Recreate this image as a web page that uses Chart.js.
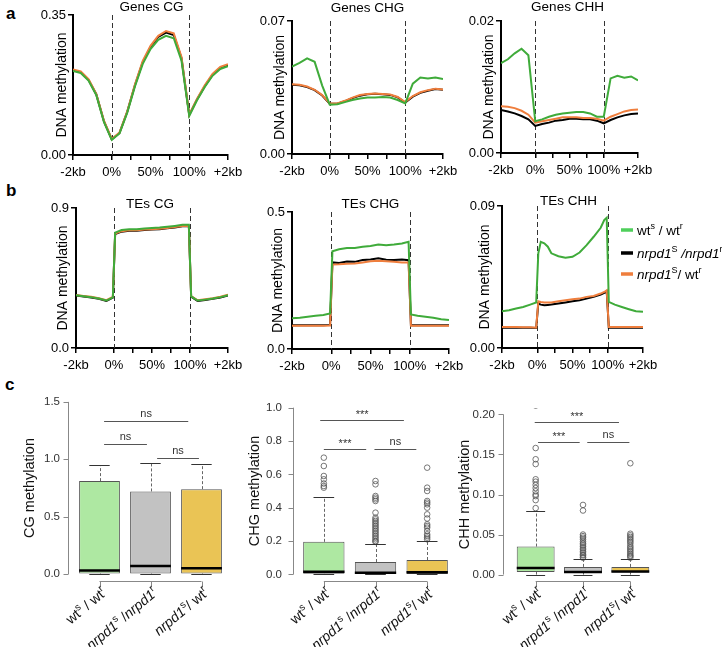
<!DOCTYPE html>
<html>
<head>
<meta charset="utf-8">
<script src="https://cdn.jsdelivr.net/npm/chart.js@4.4.1/dist/chart.umd.min.js"></script>
<style>
  body { margin: 0; background: #fff; width: 722px; height: 647px; position: relative; overflow: hidden; font-family: "Liberation Sans", Arial, sans-serif; }
  canvas { position: absolute; left: 0; top: 0; }
  .tag { position: absolute; font-weight: bold; font-size: 17px; line-height: 17px; }
</style>
</head>
<body>
<div class="tag" style="left:6px;top:5px">a</div>
<div class="tag" style="left:6px;top:182px">b</div>
<div class="tag" style="left:5px;top:376px">c</div>
<canvas id="a1" width="722" height="647"></canvas>
<canvas id="a2" width="722" height="647"></canvas>
<canvas id="a3" width="722" height="647"></canvas>
<canvas id="b1" width="722" height="647"></canvas>
<canvas id="b2" width="722" height="647"></canvas>
<canvas id="b3" width="722" height="647"></canvas>
<canvas id="c1" width="722" height="647"></canvas>
<canvas id="c2" width="722" height="647"></canvas>
<canvas id="c3" width="722" height="647"></canvas>
<script>
// ---- profile plots (a, b): x in units, -2kb=0, 0%=1, 100%=3, +2kb=4
var X_TICKS = [0, 1, 1.5, 2, 2.5, 3, 4];
var X_TICK_LABELS = ['-2kb', '0%', '', '50%', '', '100%', '+2kb'];
var BOUNDARIES = [1, 3];

var GENE_X = [0, 0.2, 0.4, 0.6, 0.8, 1.0, 1.2, 1.4, 1.6, 1.8, 2.0, 2.2, 2.4, 2.6, 2.8, 3.0, 3.2, 3.4, 3.6, 3.8, 4.0];
var GENES_CG_WT       = [.210, .205, .186, .150, .082, .038, .054, .106, .172, .228, .265, .288, .298, .292, .236, .098, .137, .170, .198, .215, .222];
var GENES_CG_NRPD1    = [.212, .207, .188, .152, .084, .039, .055, .108, .175, .232, .270, .295, .306, .300, .242, .100, .139, .172, .200, .218, .225];
var GENES_CG_NRPD1_WT = [.214, .209, .190, .153, .085, .040, .056, .109, .177, .235, .273, .298, .310, .304, .245, .101, .140, .174, .203, .220, .227];

var GENES_CHG_WT       = [.0460, .0480, .0503, .0485, .0360, .0260, .0262, .0273, .0284, .0292, .0297, .0297, .0300, .0297, .0284, .0266, .0370, .0403, .0398, .0403, .0394];
var GENES_CHG_NRPD1    = [.0365, .0362, .0352, .0336, .0308, .0264, .0265, .0278, .0294, .0307, .0314, .0317, .0315, .0311, .0298, .0271, .0302, .0322, .0333, .0342, .0338];
var GENES_CHG_NRPD1_WT = [.0367, .0364, .0355, .0338, .0310, .0266, .0266, .0280, .0297, .0310, .0316, .0319, .0316, .0313, .0300, .0273, .0305, .0325, .0336, .0344, .0340];

var GENES_CHH_WT       = [.0136, .0142, .0151, .0158, .0148, .0048, .0051, .0055, .0058, .0060, .0061, .0062, .0062, .0060, .0055, .0055, .0113, .0117, .0114, .0116, .0110];
var GENES_CHH_NRPD1    = [.0065, .0063, .0060, .0056, .0051, .0041, .0044, .0046, .0049, .0050, .0052, .0052, .0051, .0051, .0049, .0045, .0050, .0054, .0057, .0059, .0060];
var GENES_CHH_NRPD1_WT = [.0071, .0070, .0068, .0064, .0058, .0046, .0048, .0050, .0052, .0054, .0054, .0054, .0053, .0053, .0052, .0049, .0055, .0059, .0063, .0065, .0066];

var TE_X = [0, 0.2, 0.4, 0.6, 0.8, 0.97, 1.03, 1.2, 1.4, 1.6, 1.8, 2.0, 2.2, 2.4, 2.6, 2.8, 2.97, 3.03, 3.2, 3.4, 3.6, 3.8, 4.0];
var TES_CG_WT       = [.339, .333, .327, .318, .305, .326, .742, .758, .764, .764, .768, .771, .774, .779, .785, .792, .792, .332, .305, .311, .318, .327, .340];
var TES_CG_NRPD1    = [.337, .331, .325, .316, .303, .324, .732, .748, .754, .754, .758, .761, .764, .769, .775, .782, .782, .330, .303, .309, .316, .325, .338];
var TES_CG_NRPD1_WT = [.341, .335, .329, .320, .307, .328, .735, .751, .757, .757, .761, .764, .767, .772, .778, .785, .785, .334, .307, .313, .320, .329, .342];

var TES_CHG_WT       = [.112, .114, .118, .121, .124, .130, .357, .364, .369, .369, .373, .376, .381, .379, .381, .385, .391, .126, .121, .118, .114, .109, .106];
var TES_CHG_NRPD1    = [.087, .087, .087, .087, .087, .088, .316, .314, .319, .318, .325, .327, .331, .326, .325, .327, .324, .087, .087, .087, .087, .087, .087];
var TES_CHG_NRPD1_WT = [.085, .085, .085, .085, .085, .086, .308, .309, .311, .312, .316, .320, .322, .320, .318, .316, .316, .085, .085, .085, .085, .085, .085];

var TE_CHH_X = [0, 0.2, 0.4, 0.6, 0.8, 0.97, 1.03, 1.1, 1.2, 1.3, 1.4, 1.6, 1.8, 2.0, 2.2, 2.4, 2.6, 2.8, 2.9, 2.97, 3.03, 3.2, 3.4, 3.6, 3.8, 4.0];
var TES_CHH_WT       = [.0233, .0239, .0250, .0260, .0275, .0288, .0600, .0673, .0663, .0642, .0600, .0582, .0572, .0578, .0605, .0652, .0705, .0762, .0811, .0826, .0292, .0275, .0260, .0246, .0233, .0229];
var TES_CHH_NRPD1    = [.0129, .0129, .0129, .0128, .0128, .0127, .0282, .0275, .0271, .0273, .0275, .0282, .0289, .0296, .0303, .0313, .0324, .0339, .0350, .0360, .0129, .0129, .0129, .0129, .0129, .0129];
var TES_CHH_NRPD1_WT = [.0133, .0133, .0133, .0132, .0131, .0129, .0296, .0292, .0288, .0289, .0288, .0296, .0303, .0309, .0313, .0324, .0330, .0345, .0355, .0366, .0133, .0133, .0133, .0133, .0133, .0133];

// ---- box plots (c)
var GROUPS = ['wt/wt', 'nrpd1/nrpd1', 'nrpd1/wt'];
var GROUP_LABELS = [
  [{t: 'wt'}, {t: 's', sup: 1}, {t: ' / wt'}, {t: 'r', sup: 1}],
  [{t: 'nrpd1', it: 1}, {t: 's', sup: 1}, {t: ' /'}, {t: 'nrpd1', it: 1}, {t: 'r', sup: 1}],
  [{t: 'nrpd1', it: 1}, {t: 's', sup: 1}, {t: '/ wt'}, {t: 'r', sup: 1}]
];
var LEGEND_LABELS = [
  [{t: 'wt'}, {t: 's', sup: 1}, {t: ' / wt'}, {t: 'r', sup: 1}],
  [{t: 'nrpd1', it: 1}, {t: 'S', sup: 1}, {t: ' /', it: 1}, {t: 'nrpd1', it: 1}, {t: 'r', sup: 1}],
  [{t: 'nrpd1', it: 1}, {t: 'S', sup: 1}, {t: '/ wt'}, {t: 'r', sup: 1}]
];

var CG_Q1 = [0.005, 0.005, 0.005], CG_MED = [0.032, 0.07, 0.05], CG_Q3 = [0.81, 0.72, 0.74];
var CG_LO = [0, 0, 0], CG_HI = [0.95, 0.965, 0.955];
var CG_OUT = [[], [], []];
var CG_TICKS = [0, 0.5, 1.0, 1.5], CG_TICK_LABELS = ['0.0', '0.5', '1.0', '1.5'];
var CG_SIG = [[0.09, 1.74, 1.336, 'ns'], [0.09, 0.93, 1.13, 'ns'], [1.13, 1.95, 1.007, 'ns']];

var CHG_Q1 = [0.003, 0.002, 0.002], CHG_MED = [0.016, 0.01, 0.012], CHG_Q3 = [0.195, 0.074, 0.086];
var CHG_LO = [0, 0, 0], CHG_HI = [0.464, 0.185, 0.20];
var CHG_OUT = [
  [0.70, 0.65, 0.59, 0.57, 0.545, 0.53, 0.52],
  [0.56, 0.54, 0.47, 0.46, 0.45, 0.44, 0.37, 0.34, 0.33, 0.32, 0.31, 0.30, 0.29, 0.28, 0.27, 0.26, 0.25, 0.24, 0.23, 0.22, 0.21, 0.20, 0.195],
  [0.64, 0.52, 0.50, 0.44, 0.43, 0.42, 0.40, 0.36, 0.335, 0.30, 0.29, 0.28, 0.26, 0.24, 0.23, 0.22, 0.21]
];
var CHG_TICKS = [0, 0.2, 0.4, 0.6, 0.8, 1.0], CHG_TICK_LABELS = ['0.0', '0.2', '0.4', '0.6', '0.8', '1.0'];
var CHG_SIG = [[-0.07, 1.55, 0.926, '***'], [0.0, 0.82, 0.755, '***'], [0.98, 1.79, 0.755, 'ns']];

var CHH_Q1 = [0.0033, 0.002, 0.0025], CHH_MED = [0.0083, 0.0033, 0.004], CHH_Q3 = [0.035, 0.0096, 0.0096];
var CHH_LO = [0, 0, 0], CHH_HI = [0.080, 0.020, 0.020];
var CHH_OUT = [
  [0.211, 0.158, 0.144, 0.138, 0.119, 0.116, 0.112, 0.108, 0.104, 0.100, 0.098, 0.093, 0.083],
  [0.087, 0.080, 0.050, 0.048, 0.046, 0.044, 0.041, 0.039, 0.037, 0.035, 0.033, 0.031, 0.029, 0.027, 0.025, 0.024, 0.022, 0.021],
  [0.139, 0.051, 0.049, 0.047, 0.045, 0.043, 0.041, 0.039, 0.036, 0.034, 0.032, 0.030, 0.028, 0.026, 0.024, 0.023, 0.021]
];
var CHH_TICKS = [0, 0.05, 0.10, 0.15, 0.20], CHH_TICK_LABELS = ['0.00', '0.05', '0.10', '0.15', '0.20'];
var CHH_SIG = [[-0.02, 1.76, 0.190, '***'], [0.05, 0.93, 0.165, '***'], [1.09, 1.98, 0.165, 'ns']];

var GREEN = '#3fab3a', BLACK = '#000000', ORANGE = '#ef7e3d', LEGEND_GREEN = '#4fcf5b';
var BOX_FILL = ['#aee8a2', '#c2c2c2', '#eac455'];
var FONT = '"Liberation Sans", Arial, sans-serif';
var W = 722, H = 647;

function drawRich(ctx, parts, x, y, size, align) {
  var fontOf = function(p) { return (p.it ? 'italic ' : '') + (p.sup ? Math.round(size * 0.68) : size) + 'px ' + FONT; };
  var w = 0;
  parts.forEach(function(p) { ctx.font = fontOf(p); w += ctx.measureText(p.t).width; });
  var cx = align === 'right' ? x - w : x;
  ctx.textAlign = 'left';
  ctx.textBaseline = 'alphabetic';
  parts.forEach(function(p) {
    ctx.font = fontOf(p);
    ctx.fillText(p.t, cx, p.sup ? y - size * 0.42 : y);
    cx += ctx.measureText(p.t).width;
  });
}

function drawLegend(ctx) {
  var colors = [LEGEND_GREEN, BLACK, ORANGE];
  var rows = [230, 253, 274];
  ctx.save();
  rows.forEach(function(y, i) {
    ctx.strokeStyle = colors[i];
    ctx.lineWidth = 3.5;
    ctx.beginPath(); ctx.moveTo(621, y); ctx.lineTo(633, y); ctx.stroke();
    ctx.fillStyle = '#000';
    drawRich(ctx, LEGEND_LABELS[i], 637, y + 5, 13.5, 'left');
  });
  ctx.restore();
}

function profile(p) {
  var l = p.area[0], t = p.area[1], r = p.area[2], b = p.area[3];
  var series = function(xs, ys) { return xs.map(function(v, i) { return {x: v, y: ys[i]}; }); };
  var decor = {
    id: 'decor',
    beforeDatasetsDraw: function(chart) {
      var ctx = chart.ctx, a = chart.chartArea, xs = chart.scales.x;
      ctx.save();
      ctx.strokeStyle = '#333'; ctx.lineWidth = 1; ctx.setLineDash([5, 3]);
      BOUNDARIES.forEach(function(v) {
        var px = Math.round(xs.getPixelForValue(v)) + 0.5;
        ctx.beginPath(); ctx.moveTo(px, a.top); ctx.lineTo(px, a.bottom); ctx.stroke();
      });
      ctx.restore();
    },
    afterDraw: function(chart) {
      var ctx = chart.ctx, a = chart.chartArea;
      ctx.save();
      ctx.fillStyle = '#000';
      ctx.textAlign = 'center'; ctx.textBaseline = 'middle';
      ctx.font = '13.5px ' + FONT;
      ctx.fillText(p.title, (a.left + a.right) / 2 + p.titleDx, a.top + p.titleDy);
      ctx.translate(a.left - p.labelDx, (a.top + a.bottom) / 2);
      ctx.rotate(-Math.PI / 2);
      ctx.font = '14px ' + FONT;
      ctx.fillText('DNA methylation', 0, 0);
      ctx.restore();
      if (p.legend) drawLegend(ctx);
    }
  };
  new Chart(document.getElementById(p.id), {
    type: 'line',
    data: {
      datasets: [
        {data: series(p.x, p.wt), borderColor: GREEN, order: 0},
        {data: series(p.x, p.nw), borderColor: ORANGE, order: 1},
        {data: series(p.x, p.nn), borderColor: BLACK, order: 2}
      ]
    },
    options: {
      responsive: false, animation: false, events: [],
      layout: {padding: {left: 0, top: t, right: W - r, bottom: 0}},
      elements: {point: {radius: 0}, line: {borderWidth: 2, tension: 0}},
      plugins: {legend: {display: false}, tooltip: {enabled: false}},
      scales: {
        x: {
          type: 'linear', min: 0, max: 4,
          afterFit: function(s) { s.height = H - b; },
          afterBuildTicks: function(s) { s.ticks = X_TICKS.map(function(v) { return {value: v}; }); },
          ticks: {callback: function(v, i) { return X_TICK_LABELS[i]; }, autoSkip: false, maxRotation: 0, color: '#000', font: {size: 13, family: FONT}, padding: 5},
          grid: {drawOnChartArea: false, tickLength: 5, color: '#000', lineWidth: 1.5},
          border: {color: '#000', width: 2}
        },
        y: {
          min: 0, max: p.ymax,
          afterFit: function(s) { s.width = l; },
          afterBuildTicks: function(s) { s.ticks = [{value: 0}, {value: p.ymax}]; },
          ticks: {callback: function(v, i) { return p.yLabels[i]; }, color: '#000', font: {size: 13, family: FONT}, padding: 2},
          grid: {drawOnChartArea: false, tickLength: 5, color: '#000', lineWidth: 1.5},
          border: {color: '#000', width: 2}
        }
      }
    },
    plugins: [decor]
  });
}

function boxplot(p) {
  var l = p.area[0], t = p.area[1], r = p.area[2], b = p.area[3];
  var outData = [];
  p.out.forEach(function(arr, i) { arr.forEach(function(v) { outData.push({x: GROUPS[i], y: v}); }); });
  var decor = {
    id: 'boxdecor',
    afterDatasetsDraw: function(chart) {
      var ctx = chart.ctx, a = chart.chartArea, xs = chart.scales.x, ys = chart.scales.y;
      var bars = chart.getDatasetMeta(0).data;
      ctx.save();
      GROUPS.forEach(function(g, i) {
        var cx = xs.getPixelForValue(i), half = bars[i].width / 2;
        // whiskers
        ctx.strokeStyle = '#666'; ctx.lineWidth = 1; ctx.setLineDash([3, 2]);
        ctx.beginPath();
        ctx.moveTo(Math.round(cx) + 0.5, ys.getPixelForValue(p.q3[i])); ctx.lineTo(Math.round(cx) + 0.5, ys.getPixelForValue(p.hi[i]));
        ctx.moveTo(Math.round(cx) + 0.5, ys.getPixelForValue(p.q1[i])); ctx.lineTo(Math.round(cx) + 0.5, ys.getPixelForValue(p.lo[i]));
        ctx.stroke();
        ctx.setLineDash([]);
        ctx.strokeStyle = '#333';
        [p.hi[i], p.lo[i]].forEach(function(v) {
          var y = Math.round(ys.getPixelForValue(v)) + 0.5;
          ctx.beginPath(); ctx.moveTo(cx - half / 2, y); ctx.lineTo(cx + half / 2, y); ctx.stroke();
        });
        // median
        ctx.strokeStyle = '#000'; ctx.lineWidth = 2.5;
        var my = ys.getPixelForValue(p.med[i]);
        ctx.beginPath(); ctx.moveTo(cx - half, my); ctx.lineTo(cx + half, my); ctx.stroke();
      });
      // y axis (R style)
      var ax = a.left - p.axisGap + 0.5;
      ctx.strokeStyle = '#888'; ctx.lineWidth = 1;
      ctx.beginPath();
      ctx.moveTo(ax, ys.getPixelForValue(p.ticks[0])); ctx.lineTo(ax, ys.getPixelForValue(p.ticks[p.ticks.length - 1]));
      p.ticks.forEach(function(v) { var y = Math.round(ys.getPixelForValue(v)) + 0.5; ctx.moveTo(ax, y); ctx.lineTo(ax - 5, y); });
      ctx.stroke();
      // x axis
      var by = a.bottom + 0.5;
      ctx.beginPath();
      ctx.moveTo(xs.getPixelForValue(0), by); ctx.lineTo(xs.getPixelForValue(2), by);
      GROUPS.forEach(function(g, i) { var x = Math.round(xs.getPixelForValue(i)) + 0.5; ctx.moveTo(x, by); ctx.lineTo(x, by + 6); });
      ctx.stroke();
      // significance
      ctx.strokeStyle = '#555'; ctx.fillStyle = '#333';
      ctx.font = '11px ' + FONT; ctx.textAlign = 'center'; ctx.textBaseline = 'middle';
      p.sig.forEach(function(s) {
        var x1 = xs.getPixelForValue(s[0]), x2 = xs.getPixelForValue(s[1]), y = Math.round(ys.getPixelForValue(s[2])) + 0.5;
        ctx.beginPath(); ctx.moveTo(x1, y); ctx.lineTo(x2, y); ctx.stroke();
        ctx.fillText(s[3], (x1 + x2) / 2, y - (s[3] === 'ns' ? 8 : 6));
      });
      // rotated category labels
      ctx.fillStyle = '#111';
      GROUP_LABELS.forEach(function(parts, i) {
        ctx.save();
        ctx.translate(xs.getPixelForValue(i) + 8, a.bottom + 13);
        ctx.rotate(-40 * Math.PI / 180);
        drawRich(ctx, parts, 0, 0, 14, 'right');
        ctx.restore();
      });
      // y title
      ctx.fillStyle = '#111';
      ctx.translate(a.left - p.axisGap - 38, (ys.getPixelForValue(p.ticks[0]) + ys.getPixelForValue(p.ticks[p.ticks.length - 1])) / 2);
      ctx.rotate(-Math.PI / 2);
      ctx.font = '14.5px ' + FONT; ctx.textAlign = 'center'; ctx.textBaseline = 'middle';
      ctx.fillText(p.title, 0, 0);
      ctx.restore();
    }
  };
  new Chart(document.getElementById(p.id), {
    type: 'bar',
    data: {
      labels: GROUPS,
      datasets: [
        {data: p.q1.map(function(v, i) { return [v, p.q3[i]]; }), backgroundColor: BOX_FILL, borderColor: '#555', borderWidth: 1, borderSkipped: false, barPercentage: 0.8, categoryPercentage: 1},
        {type: 'scatter', data: outData, pointRadius: 2.8, pointBorderWidth: 0.8, pointBorderColor: '#555', pointBackgroundColor: 'rgba(0,0,0,0)', clip: 0}
      ]
    },
    options: {
      responsive: false, animation: false, events: [],
      layout: {padding: {left: 0, top: t, right: W - r, bottom: H - b}},
      plugins: {legend: {display: false}, tooltip: {enabled: false}},
      scales: {
        x: {type: 'category', display: false},
        y: {
          min: p.ymin, max: p.ymax,
          afterFit: function(s) { s.width = l; },
          afterBuildTicks: function(s) { s.ticks = p.ticks.map(function(v) { return {value: v}; }); },
          ticks: {callback: function(v, i) { return p.tickLabels[i]; }, color: '#333', font: {size: 11.5, family: FONT}, padding: p.labelPad},
          grid: {display: false, drawTicks: false},
          border: {display: false}
        }
      }
    },
    plugins: [decor]
  });
}

profile({id: 'a1', title: 'Genes CG', x: GENE_X, wt: GENES_CG_WT, nn: GENES_CG_NRPD1, nw: GENES_CG_NRPD1_WT, ymax: 0.35, yLabels: ['0.00', '0.35'], area: [73, 15, 228, 155], titleDx: 1, titleDy: -8, labelDx: 11});
profile({id: 'a2', title: 'Genes CHG', x: GENE_X, wt: GENES_CHG_WT, nn: GENES_CHG_NRPD1, nw: GENES_CHG_NRPD1_WT, ymax: 0.07, yLabels: ['0.00', '0.07'], area: [292, 21, 443, 154], titleDx: 0, titleDy: -13, labelDx: 12});
profile({id: 'a3', title: 'Genes CHH', x: GENE_X, wt: GENES_CHH_WT, nn: GENES_CHH_NRPD1, nw: GENES_CHH_NRPD1_WT, ymax: 0.02, yLabels: ['0.00', '0.02'], area: [501, 21, 638, 153], titleDx: -2, titleDy: -14, labelDx: 12});
profile({id: 'b1', title: 'TEs CG', x: TE_X, wt: TES_CG_WT, nn: TES_CG_NRPD1, nw: TES_CG_NRPD1_WT, ymax: 0.9, yLabels: ['0.0', '0.9'], area: [76, 208, 228, 348], titleDx: -2, titleDy: -4, labelDx: 13});
profile({id: 'b2', title: 'TEs CHG', x: TE_X, wt: TES_CHG_WT, nn: TES_CHG_NRPD1, nw: TES_CHG_NRPD1_WT, ymax: 0.5, yLabels: ['0.0', '0.5'], area: [292, 212, 449, 349], titleDx: 0, titleDy: -8, labelDx: 14});
profile({id: 'b3', title: 'TEs CHH', x: TE_CHH_X, wt: TES_CHH_WT, nn: TES_CHH_NRPD1, nw: TES_CHH_NRPD1_WT, ymax: 0.09, yLabels: ['0.00', '0.09'], area: [502, 206, 643, 348], titleDx: -4, titleDy: -5, labelDx: 17, legend: true});

boxplot({id: 'c1', title: 'CG methylation', q1: CG_Q1, med: CG_MED, q3: CG_Q3, lo: CG_LO, hi: CG_HI, out: CG_OUT, ticks: CG_TICKS, tickLabels: CG_TICK_LABELS, sig: CG_SIG, ymin: -0.06, ymax: 1.56, area: [74, 395, 227, 581], axisGap: 6, labelPad: 14});
boxplot({id: 'c2', title: 'CHG methylation', q1: CHG_Q1, med: CHG_MED, q3: CHG_Q3, lo: CHG_LO, hi: CHG_HI, out: CHG_OUT, ticks: CHG_TICKS, tickLabels: CHG_TICK_LABELS, sig: CHG_SIG, ymin: -0.04, ymax: 1.04, area: [298, 401, 453, 581], axisGap: 5, labelPad: 16});
boxplot({id: 'c3', title: 'CHH methylation', q1: CHH_Q1, med: CHH_MED, q3: CHH_Q3, lo: CHH_LO, hi: CHH_HI, out: CHH_OUT, ticks: CHH_TICKS, tickLabels: CHH_TICK_LABELS, sig: CHH_SIG, ymin: -0.008, ymax: 0.208, area: [512, 408, 654, 581], axisGap: 9, labelPad: 17});
</script>
</body>
</html>
